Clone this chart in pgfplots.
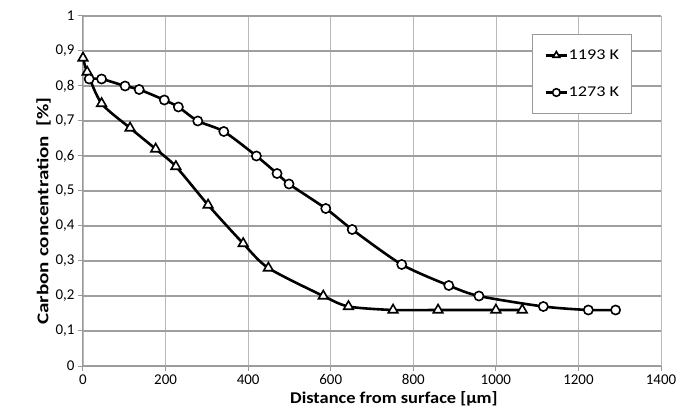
\documentclass[border=0pt]{standalone}
\usepackage{pgfplots}
\pgfplotsset{compat=1.18}
\usepackage{fontspec}
\setmainfont{Carlito}
\newfontfamily\tallfont[FakeStretch=1.28]{Carlito}
\newfontfamily\widefont[FakeStretch=1.12]{Carlito}
\newfontfamily\legfont[FakeStretch=1.22]{Carlito}

\begin{document}
\begin{tikzpicture}
\begin{axis}[
    scale only axis,
    width=578bp, height=350bp,
    xmin=0, xmax=1400, ymin=0, ymax=1,
    xtick={0,200,...,1400},
    ytick={0,0.1,...,1},
    axis lines=left,
    axis line style={-, draw=gray!80, line width=1bp},
    tick align=outside,
    major tick length=5bp,
    tick style={draw=gray!80, line width=1bp},
    xmajorgrids, ymajorgrids,
    x grid style={draw=gray!55, line width=0.6bp},
    y grid style={draw=gray!75, line width=1.1bp},
    /pgf/number format/.cd, use comma, fixed, precision=1, 1000 sep={}, assume math mode=true,
    /pgfplots/.cd,
    tick label style={font=\fontsize{15}{17}\selectfont, text=black},
    xlabel={\widefont\fontsize{16.5}{18}\selectfont\bfseries Distance from surface [µm]},
    ylabel={\tallfont\fontsize{16.5}{18}\selectfont\bfseries Carbon concentration\ \ [\%]},
    xlabel style={at={(ticklabel cs:0.538)}, yshift=0bp},
    ylabel style={at={(ticklabel cs:0.443)}, yshift=-2bp},
    legend style={at={(rel axis cs:0.950,0.949)}, anchor=north east,
        draw=gray!80, line width=0.8bp, fill=white,
        font=\legfont\fontsize{15}{17}\selectfont,
        nodes={inner xsep=0.5bp},
        row sep=22bp, inner xsep=12bp, inner ysep=13.5bp},
    legend cell align=left,
    legend image code/.code={\draw[mark repeat=2, mark phase=2, #1, mark size=3.8bp]
        plot coordinates {(0cm,0cm) (0.37cm,0cm) (0.74cm,0cm)};},
]
\addplot[black, line width=2.6bp, smooth, tension=0.45,
    mark=triangle*, mark size=5.5bp, mark options={fill=white, line width=1.6bp, solid}]
coordinates {
    (0,0.88) (10,0.84) (45,0.75) (114,0.68) (176,0.62) (225,0.57)
    (303,0.46) (388,0.35) (449,0.28) (582,0.20) (643,0.17) (751,0.16)
    (860,0.16) (1000,0.16) (1064,0.16)
};
\addlegendentry{1193 K}
\addplot[black, line width=2.6bp, smooth, tension=0.45,
    mark=*, mark size=4.6bp, mark options={fill=white, line width=1.6bp, solid}]
coordinates {
    (15,0.82) (45,0.82) (102,0.80) (136,0.79) (197,0.76) (231,0.74)
    (278,0.70) (341,0.67) (420,0.60) (470,0.55) (499,0.52) (588,0.45)
    (652,0.39) (772,0.29) (886,0.23) (959,0.20) (1115,0.17) (1224,0.16)
    (1290,0.16)
};
\addlegendentry{1273 K}
\coordinate (sw) at (rel axis cs:0,0);
\coordinate (ne) at (rel axis cs:1,1);
\end{axis}
\pgfresetboundingbox
\useasboundingbox ([xshift=-83bp,yshift=-54bp]sw) rectangle ([xshift=33bp,yshift=16bp]ne);
\end{tikzpicture}
\end{document}
